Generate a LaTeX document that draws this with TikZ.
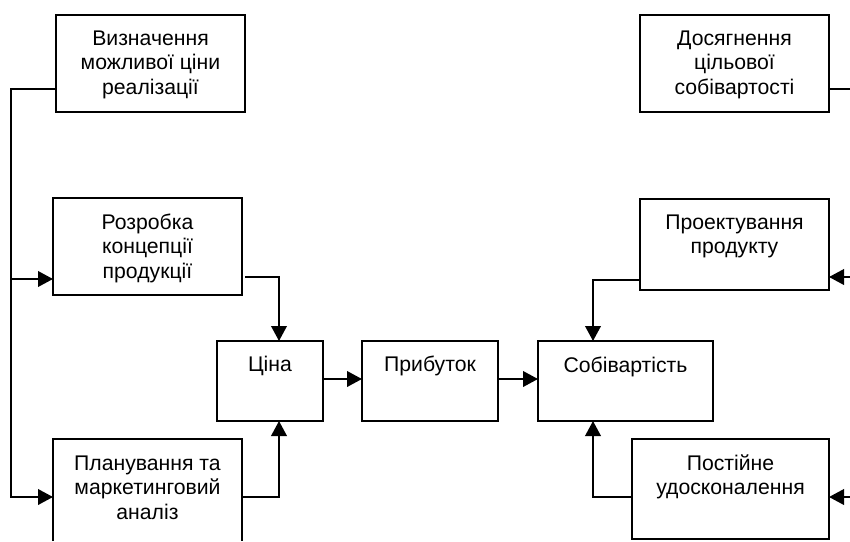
\documentclass[tikz,border=0pt]{standalone}
\usepackage{fontspec}
\setmainfont{Liberation Sans}
\usetikzlibrary{arrows.meta,calc}
\newcommand{\boxtext}[4]{\parbox[c][#2pt][t]{#1pt}{\centering\fontsize{21.2}{24.6}\selectfont\rule{0pt}{#3pt}#4\par}}
\tikzset{
  blockbox/.style={draw=black,line width=1.9pt,inner sep=0pt,outer sep=0pt,anchor=north west},
  openbox/.style={inner sep=0pt,outer sep=0pt,anchor=north west},
  conn/.style={draw=black,line width=2.2pt},
  arrowed/.style={conn,-{Triangle[length=15pt,width=15.5pt]}}
}
\begin{document}
\begin{tikzpicture}[x=1pt,y=-1pt]
\useasboundingbox (0,0) rectangle (850,541);
\node[blockbox] (def) at (56,15) {\boxtext{189}{97}{30}{Визначення\\можливої ціни\\реалізації}};
\node[blockbox] (conc) at (53,198) {\boxtext{189}{97}{31}{Розробка\\концепції\\продукції}};
\node[openbox] (plan) at (53,439) {\boxtext{189}{102}{31}{Планування та\\маркетинговий\\аналіз}};
\draw[blockbox] (plan.south west) -- (plan.north west) -- (plan.north east) -- (plan.south east);
\node[blockbox] (price) at (217,341) {\boxtext{106}{80}{30}{Ціна}};
\node[blockbox] (profit) at (362,341) {\boxtext{136}{80}{30}{Прибуток}};
\node[blockbox] (cost) at (538,341) {\boxtext{175}{80}{31}{Собівартість}};
\node[blockbox] (target) at (640,15) {\boxtext{189}{97}{30}{Досягнення\\цільової\\собівартості}};
\node[blockbox] (design) at (640,199) {\boxtext{189}{91}{30}{Проектування\\продукту}};
\node[blockbox] (improve) at (632,439) {\boxtext{197}{100}{31}{Постійне\\удосконалення}};
% free ends and ports
\coordinate (busL) at (11,89);
\coordinate (defOut) at (def.west |- busL);
\coordinate (concIn) at ([yshift=-32.5pt]conc.west);
\coordinate (planIn) at ([yshift=-7pt]plan.west);
\coordinate (concOut) at ([xshift=3pt,yshift=-30.5pt]conc.east);
\coordinate (planOut) at ([yshift=-7pt]plan.east);
\coordinate (priceTop) at ([xshift=9pt]price.north);
\coordinate (priceBot) at ([xshift=9pt]price.south);
\coordinate (costTop) at ([xshift=-32.5pt]cost.north);
\coordinate (costBot) at ([xshift=-32.5pt]cost.south);
\coordinate (designOut) at ([yshift=-35.5pt]design.west);
\coordinate (improveOut) at ([yshift=-8pt]improve.west);
\coordinate (targetEnd) at (850,89);
\coordinate (designEnd) at (850,277);
\coordinate (improveEnd) at (850,497);
\coordinate (designIn) at (design.east |- designEnd);
\coordinate (improveIn) at (improve.east |- improveEnd);
\coordinate (targetOut) at (target.east |- targetEnd);
% left bus
\draw[arrowed] (defOut) -- (busL) -- (busL |- planIn) -- (planIn);
\draw[arrowed] (busL |- concIn) -- (concIn);
% into price
\draw[arrowed] (concOut) -| (priceTop);
\draw[arrowed] (planOut) -| (priceBot);
% main chain
\draw[arrowed] ([yshift=2pt]price.east) -- ([yshift=2pt]profit.west);
\draw[arrowed] ([yshift=2pt]profit.east) -- ([yshift=2pt]cost.west);
% into cost
\draw[arrowed] (designOut) -| (costTop);
\draw[arrowed] (improveOut) -| (costBot);
% right side
\draw[conn] (targetOut) -- (targetEnd);
\draw[arrowed] (designEnd) -- (designIn);
\draw[arrowed] (improveEnd) -- (improveIn);
\end{tikzpicture}
\end{document}
